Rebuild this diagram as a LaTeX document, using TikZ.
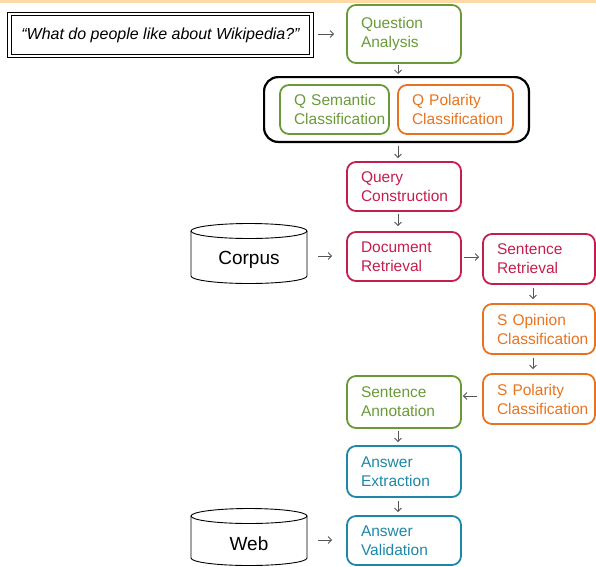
\documentclass[tikz,border=0pt]{standalone}
\usepackage{fontspec}
\setmainfont{Liberation Sans}
\usetikzlibrary{arrows.meta,fit,calc}
\definecolor{cgreen}{HTML}{6A9A38}
\definecolor{corange}{HTML}{E8731E}
\definecolor{ccrimson}{HTML}{C41E4E}
\definecolor{cblue}{HTML}{1E87A8}
\definecolor{carrow}{HTML}{555555}
\definecolor{cband}{HTML}{FFD9A8}
\hyphenpenalty=10000
\begin{document}
\begin{tikzpicture}[x=1pt,y=-1pt,
  box/.style={draw=#1, text=#1, line width=1.8pt, rounded corners=9pt,
    align=left, inner xsep=14pt, inner ysep=0pt,
    font=\fontsize{15.5}{19}\selectfont},
  bw/.style 2 args={text width=#1pt-28pt, minimum height=#2pt},
  arr/.style={draw=carrow, line width=0.8pt, -{Straight Barb[length=3.5pt,width=7pt]}},
  cyl/.style={draw=black, line width=0.9pt},
  dbtext/.style={font=\fontsize{19}{22}\selectfont, inner sep=0pt},
]
\useasboundingbox (0,0) rectangle (596,566);
\fill[cband] (0,0) rectangle (596,3);

% question
\node[draw, double, double distance=2.6pt, line width=1pt, minimum width=302pt, minimum height=42pt,
  inner sep=0pt, font=\fontsize{16}{19}\itshape\selectfont] (quote) at (160.5,35) {“What do people like about Wikipedia?”};

\node[box=cgreen, bw={114}{58}] (qa) at (404,34) {Question\\Analysis};
\node[box=cgreen, bw={109}{49}] (qsem) at (334.5,109.5) {Q~Semantic\\Classification};
\node[box=corange, bw={115}{49}] (qpol) at (455.5,109.5) {Q Polarity\\Classification};
\node[draw=black, line width=2.2pt, rounded corners=14pt, fit=(qsem)(qpol), inner xsep=15pt, inner ysep=7pt] (qcls) {};
\node[box=ccrimson, bw={114}{49}] (qc) at (404,186.5) {Query\\Construction};
\node[box=ccrimson, bw={114}{49}] (dr) at (404,256.5) {Document\\Retrieval};
\node[box=ccrimson, bw={112}{50}] (sr) at (539,259) {Sentence\\Retrieval};
\node[box=corange, bw={112}{50}] (so) at (539,329) {S Opinion\\Classification};
\node[box=corange, bw={112}{50}] (sp) at (539,399) {S Polarity\\Classification};
\node[box=cgreen, bw={114}{52}] (sa) at (404,402) {Sentence\\Annotation};
\node[box=cblue, bw={114}{51}] (ae) at (404,471.5) {Answer\\Extraction};
\node[box=cblue, bw={114}{49}] (av) at (404,540.5) {Answer\\Validation};

% databases
\draw[cyl] (191,231) -- (191,276) arc[start angle=180,end angle=0,x radius=58,y radius=7.5] -- (307,231);
\draw[cyl] (249,231) ellipse[x radius=58, y radius=7.5];
\node[dbtext, minimum width=116pt, minimum height=40pt] (corpus) at (249,260) {Corpus};

\draw[cyl] (191,516) -- (191,558) arc[start angle=180,end angle=0,x radius=58,y radius=7.5] -- (307,516);
\draw[cyl] (249,516) ellipse[x radius=58, y radius=7.5];
\node[dbtext, minimum width=116pt, minimum height=36pt] (web) at (249,544) {Web};

% connectors
\draw[arr, shorten <=6pt, shorten >=12pt] ([yshift=1pt]quote.east) -- ([yshift=1pt]quote.east -| qa.west);
\draw[arr, shorten <=1pt, shorten >=2pt] ([xshift=-6pt]qa.south) -- ([xshift=-6pt]qa.south |- qcls.north);
\draw[arr, shorten <=3pt, shorten >=3pt] ([xshift=-6pt]qa.south |- qcls.south) -- ([xshift=-6pt]qc.north);
\draw[arr, shorten <=2pt, shorten >=5pt] ([xshift=-6pt]qc.south) -- ([xshift=-6pt]dr.north);
\draw[arr, shorten <=11pt, shorten >=14pt] ([yshift=4pt]corpus.east) -- ([yshift=4pt]corpus.east -| dr.west);
\draw[arr, shorten <=2pt, shorten >=3pt] ([yshift=-0.5pt]dr.east) -- ([yshift=-0.5pt]dr.east -| sr.west);
\draw[arr, shorten <=3pt, shorten >=4pt] ([xshift=-6pt]sr.south) -- ([xshift=-6pt]so.north);
\draw[arr, shorten <=3pt, shorten >=4pt] ([xshift=-6pt]so.south) -- ([xshift=-6pt]sp.north);
\draw[arr, shorten <=5pt, shorten >=1pt] ([yshift=3pt]sp.west) -- ([yshift=3pt]sp.west -| sa.east);
\draw[arr, shorten <=2pt, shorten >=3pt] ([xshift=-6pt]sa.south) -- ([xshift=-6pt]ae.north);
\draw[arr, shorten <=3pt, shorten >=3pt] ([xshift=-6pt]ae.south) -- ([xshift=-6pt]av.north);
\draw[arr, shorten <=11pt, shorten >=14pt] ([yshift=4pt]web.east) -- ([yshift=4pt]web.east -| av.west);
\end{tikzpicture}
\end{document}
